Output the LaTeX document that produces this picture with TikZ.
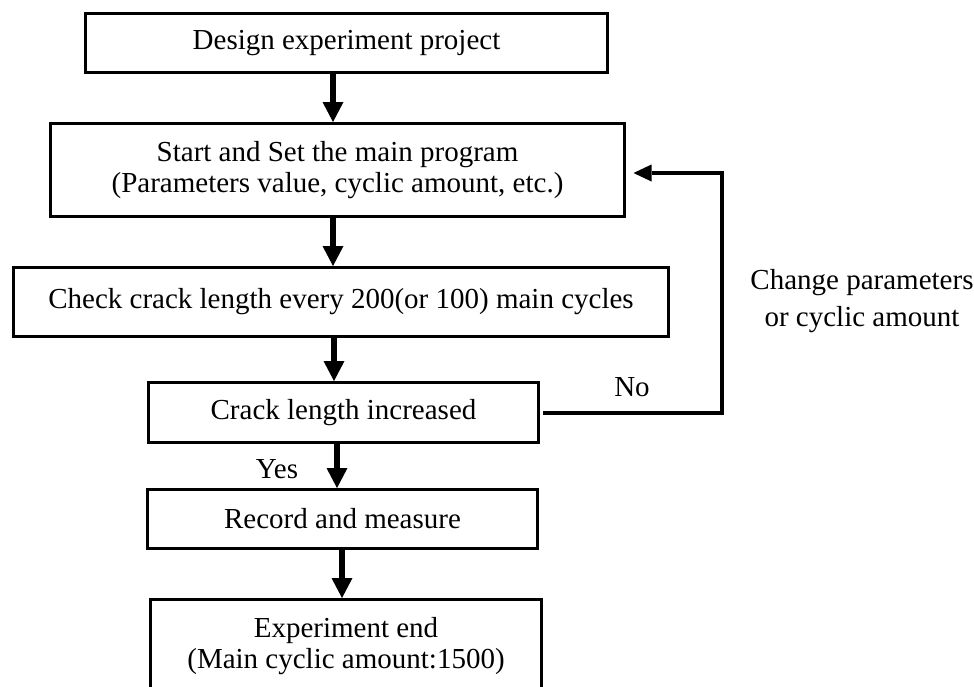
\documentclass[tikz,border=0pt]{standalone}
\usepackage{fontspec}
\setmainfont{Liberation Serif}
\usetikzlibrary{arrows.meta}
\begin{document}
\begin{tikzpicture}[x=1pt,y=-1pt,
  box/.style={draw, line width=3pt, inner sep=0pt, align=center, font=\fontsize{29}{30.5}\selectfont},
  flow/.style={line width=6pt, -{Triangle[length=20pt,width=21pt,line width=0pt]}},
  back/.style={line width=4pt, -{Triangle[length=18pt,width=17pt,line width=0pt]}},
  lbl/.style={inner sep=0pt, align=center, font=\fontsize{29}{37}\selectfont}]
\useasboundingbox (0,0) rectangle (974,686);
\node[box, minimum width=522pt, minimum height=59pt] (b1) at (346.5,43) {Design experiment project};
\node[box, minimum width=574pt, minimum height=93pt] (b2) at (337.5,170) {Start and Set the main program\\(Parameters value, cyclic amount, etc.)};
\node[box, minimum width=655pt, minimum height=69pt] (b3) at (341,302) {Check crack length every 200(or 100) main cycles};
\node[box, minimum width=390pt, minimum height=60pt] (b4) at (343.5,412.5) {Crack length increased};
\node[box, minimum width=390pt, minimum height=59pt] (b5) at (342.5,519) {Record and measure};
\node[box, minimum width=391pt, minimum height=93pt] (b6) at (346,646) {Experiment end\\(Main cyclic amount:1500)};
\coordinate (xa) at (333,0);
\coordinate (xb) at (334,0);
\coordinate (xc) at (337,0);
\coordinate (xd) at (342,0);
\draw[flow] (b1.south -| xa) -- (b2.north -| xa);
\draw[flow] (b2.south -| xa) -- (b3.north -| xa);
\draw[flow] (b3.south -| xb) -- (b4.north -| xb);
\draw[flow] (b4.south -| xc) -- (b5.north -| xc);
\draw[flow] (b5.south -| xd) -- (b6.north -| xd);
\coordinate (f1) at (722,412.5);
\coordinate (f2) at (722,173);
\draw[back, shorten <=3pt, shorten >=7.5pt] (b4.east) -- (f1) -- (f2) -- (b2.east |- f2);
\node[lbl] (yes) at (277,469) {Yes};
\node[lbl] (no) at (632,387) {No};
\node[lbl] (chg) at (862,301.5) {Change parameters\\or cyclic amount};
\end{tikzpicture}
\end{document}
